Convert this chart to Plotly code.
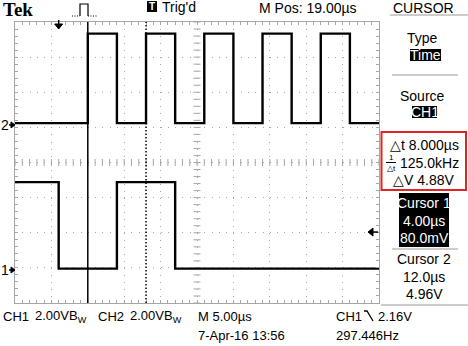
import numpy as np
import plotly.graph_objects as go

ch1_t = [-6.0, 0.0, 8.0, 16.0, 44.0]          # µs, edge times
ch1_v = [5.0, 0.08, 5.0, 0.08, 0.08]          # V
ch2_t = [-6.0, 4.0, 8.0, 12.0, 16.0, 20.0, 24.0, 28.0, 32.0, 36.0, 40.0, 44.0]
ch2_v = [0.1, 5.2, 0.1, 5.2, 0.1, 5.2, 0.1, 5.2, 0.1, 5.2, 0.1, 0.1]
volts_per_div = 2.0
time_per_div = 5.0
m_pos = 19.0
cursor1_t = 4.0
cursor2_t = 12.0
trig_level = 2.16
ch1_offset_div = -3.06
ch2_offset_div = 1.07

W, H = 468, 346
L, R, T, B = 15, 379, 22, 303
FONT = "Liberation Sans, Arial"
GRID = "#a6a6a6"

def px(x):
    return (x - L) / (R - L)

def py(y):
    return (B - y) / (B - T)

def ydiv_to_pix(yd):
    return B - (yd + 4) / 8 * (B - T)

def t_to_pix(t):
    return L + (t - (m_pos - 5 * time_per_div)) / (10 * time_per_div) * (R - L)

ch1_y = [ch1_offset_div + v / volts_per_div for v in ch1_v]
ch2_y = [ch2_offset_div + v / volts_per_div for v in ch2_v]

fig = go.Figure()

# center-line tick marks of the graticule
xs = np.arange(m_pos - 5 * time_per_div, m_pos + 5 * time_per_div + 0.01, time_per_div / 5)
fig.add_trace(go.Scatter(x=xs, y=[0] * len(xs), mode="markers", hoverinfo="skip",
                         marker=dict(symbol="line-ns", size=5, line=dict(color=GRID, width=1)),
                         showlegend=False))
ys = np.arange(-4, 4.01, 0.2)
fig.add_trace(go.Scatter(x=[m_pos] * len(ys), y=ys, mode="markers", hoverinfo="skip",
                         marker=dict(symbol="line-ew", size=5, line=dict(color=GRID, width=1)),
                         showlegend=False))

fig.add_trace(go.Scatter(x=ch2_t, y=ch2_y, mode="lines", line=dict(color="black", width=2.4, shape="hv"),
                         showlegend=False))
fig.add_trace(go.Scatter(x=ch1_t, y=ch1_y, mode="lines", line=dict(color="black", width=2.4, shape="hv"),
                         showlegend=False))

shapes = []
# cursors
shapes.append(dict(type="line", xref="x", yref="paper", x0=cursor1_t, x1=cursor1_t, y0=0, y1=1,
                   line=dict(color="black", width=1.5)))
shapes.append(dict(type="line", xref="x", yref="paper", x0=cursor2_t, x1=cursor2_t, y0=0, y1=1,
                   line=dict(color="black", width=1.5, dash="1.5px,2px")))

def pline(x0, y0, x1, y1, color="#999999", width=1):
    shapes.append(dict(type="line", xref="paper", yref="paper", x0=px(x0), y0=py(y0), x1=px(x1), y1=py(y1),
                       line=dict(color=color, width=width)))

def prect(x0, y0, x1, y1, fill="black", line=None):
    shapes.append(dict(type="rect", xref="paper", yref="paper", x0=px(x0), y0=py(y0), x1=px(x1), y1=py(y1),
                       fillcolor=fill, line=line or dict(width=0)))

def ppath(points, fill=None, color="black", width=1.5, close=False, dash=None):
    d = "M " + " L ".join(f"{px(a):.5f},{py(b):.5f}" for a, b in points) + (" Z" if close else "")
    ln = dict(color=color, width=width)
    if dash:
        ln["dash"] = dash
    shapes.append(dict(type="path", xref="paper", yref="paper", path=d,
                       fillcolor=fill if fill else "rgba(0,0,0,0)", line=ln))

# right panel
pline(390, 15, 468, 15)
prect(410, 49, 441, 61)
pline(392, 75, 458, 75)
prect(412, 106, 437, 118)
prect(381.5, 132, 466, 190, fill="rgba(0,0,0,0)", line=dict(color="#e02424", width=2))
pline(386, 162.5, 396, 162.5, color="black", width=1)
prect(399, 193, 449, 247)
pline(392, 249, 458, 249)
pline(381, 305, 468, 305)
# T box
prect(147, 1, 157, 12)
# pulse icon
ppath([(72, 16), (80, 16)], width=1, color="black", dash="1px,1.5px")
ppath([(80, 16), (80, 4), (88, 4), (88, 16)], width=1.2)
ppath([(88, 16), (98, 16)], width=1, color="black", dash="1px,1.5px")
# trigger position marker (t = 0)
tx = t_to_pix(0.0)
ppath([(tx, 20), (tx, 25)], width=1.5)
ppath([(tx - 4, 24), (tx + 4, 24), (tx, 29)], fill="black", width=1, close=True)
# trigger level marker
ty = ydiv_to_pix(ch1_offset_div + trig_level / volts_per_div)
ppath([(368, ty), (373, ty - 4), (373, ty + 4)], fill="black", width=1, close=True)
ppath([(373, ty), (378, ty)], width=1.5)
# channel ground markers
for off in (ch1_offset_div, ch2_offset_div):
    gy = ydiv_to_pix(off)
    ppath([(9, gy), (12, gy)], width=1.5)
    ppath([(11, gy - 3), (15, gy), (11, gy + 3)], fill="black", width=1, close=True)
# slope icon
ppath([(364, 311), (367, 311), (373, 321)], width=1.3)

ann = []

def text(s, x, y, size=14, anchor="center", color="black", family=FONT):
    ann.append(dict(text=s, xref="paper", yref="paper", x=px(x), y=py(y), xanchor=anchor, yanchor="middle",
                    showarrow=False, font=dict(size=size, color=color, family=family)))

text("<b>Tek</b>", 1, 9, size=19, anchor="left", family="Liberation Serif, Times New Roman")
text("<b>T</b>", 152, 6.5, size=10, color="white")
text("Trig'd", 160, 7, size=14, anchor="left")
text(f"M Pos: {m_pos:.2f}µs", 308, 8, size=14)
text("CURSOR", 423, 8, size=14)
text("Type", 422, 38, size=14)
text("Time", 425.5, 55, size=14, color="white")
text("Source", 422, 96, size=14)
text("CH1", 424.5, 112, size=14, color="white")
text(f"△t {cursor2_t - cursor1_t:.3f}µs", 424, 145, size=14)
text("1", 391, 157, size=8)
text("△t", 391, 168, size=8)
text(f"{1000 / (cursor2_t - cursor1_t):.1f}kHz", 398, 163, size=14, anchor="left")
text("△V 4.88V", 423, 180, size=14)
text("Cursor 1", 424, 203, size=14, color="white")
text(f"{cursor1_t:.2f}µs", 424, 221, size=14, color="white")
text("80.0mV", 424, 238, size=14, color="white")
text("Cursor 2", 424, 259, size=14)
text(f"{cursor2_t:.1f}µs", 424, 277, size=14)
text("4.96V", 424, 294, size=14)
# ground labels
text("1", 5, ydiv_to_pix(ch1_offset_div), size=14)
text("2", 5, ydiv_to_pix(ch2_offset_div), size=14)
# bottom status
text("CH1", 1, 316, size=13, anchor="left")
text(f"{volts_per_div:.2f}VB<sub>W</sub>", 33, 316, size=13, anchor="left")
text("CH2", 96, 316, size=13, anchor="left")
text(f"{volts_per_div:.2f}VB<sub>W</sub>", 128, 316, size=13, anchor="left")
text(f"M {time_per_div:.2f}µs", 196, 316, size=13, anchor="left")
text("CH1", 334, 316, size=13, anchor="left")
text(f"{trig_level:.2f}V", 376, 316, size=13, anchor="left")
text("7-Apr-16 13:56", 196, 335, size=13, anchor="left")
text("297.446Hz", 334, 335, size=13, anchor="left")

xr = [m_pos - 5 * time_per_div, m_pos + 5 * time_per_div]
fig.update_layout(
    width=W, height=H, margin=dict(l=L, r=W - R, t=T, b=H - B, pad=0),
    paper_bgcolor="white", plot_bgcolor="white",
    font=dict(family=FONT, size=14, color="black"),
    shapes=shapes, annotations=ann, showlegend=False,
    xaxis=dict(range=xr, tick0=xr[0], dtick=time_per_div, showticklabels=False,
               showgrid=True, gridcolor=GRID, gridwidth=1, griddash="1px,6.03px",
               zeroline=False, showline=True, linecolor=GRID, linewidth=1, mirror="ticks",
               ticks="inside", ticklen=3, tickcolor=GRID,
               minor=dict(tick0=xr[0], dtick=time_per_div / 5, ticks="inside", ticklen=3,
                          tickcolor=GRID, showgrid=False),
               fixedrange=True),
    yaxis=dict(range=[-4, 4], tick0=-4, dtick=1, showticklabels=False,
               showgrid=True, gridcolor=GRID, gridwidth=1, griddash="1px,6.28px",
               zeroline=False, showline=True, linecolor=GRID, linewidth=1, mirror="ticks",
               ticks="inside", ticklen=3, tickcolor=GRID,
               minor=dict(tick0=-4, dtick=0.2, ticks="inside", ticklen=3, tickcolor=GRID, showgrid=False),
               fixedrange=True),
)

fig.write_html("out.html", config={"displayModeBar": False})
